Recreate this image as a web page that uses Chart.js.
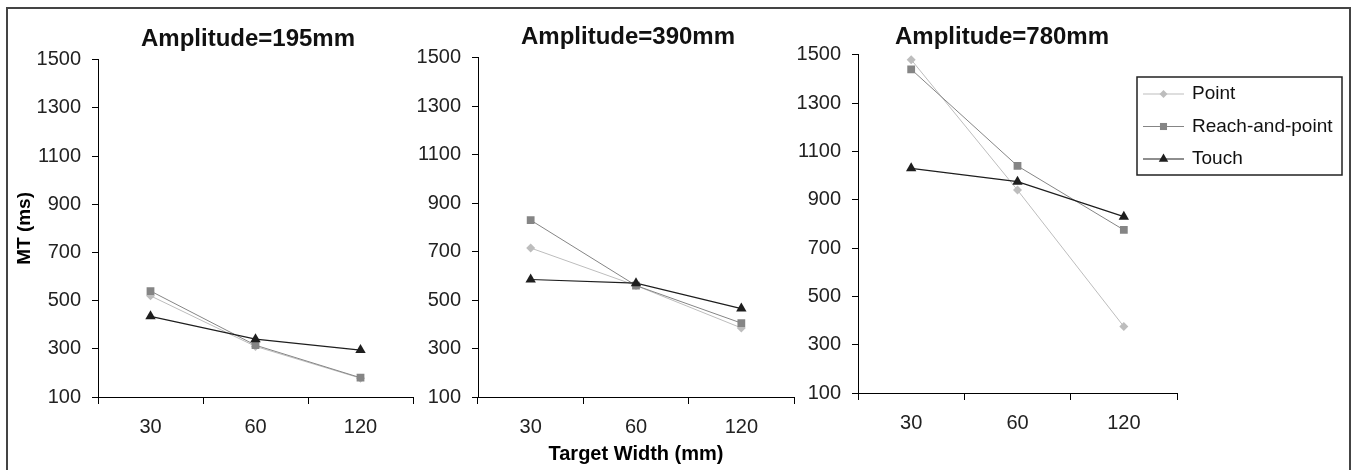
<!DOCTYPE html>
<html>
<head>
<meta charset="utf-8">
<title>MT por amplitud</title>
<script src="https://cdn.jsdelivr.net/npm/chart.js@4.4.0/dist/chart.umd.min.js"></script>
<style>
  body{margin:0;background:#fff;width:1353px;height:470px;overflow:hidden;}
  #marco{position:absolute;left:6px;top:7px;width:1341px;height:490px;border:2px solid #444;}
  canvas{position:absolute;top:10px;}
</style>
</head>
<body>
<div id="marco"></div>
<canvas id="Grafica1" width="480" height="460" style="left:8px"></canvas>
<canvas id="Grafica2" width="480" height="460" style="left:388px"></canvas>
<canvas id="Grafica3" width="686" height="460" style="left:659px"></canvas>
<script>
// datos
const anchos = ['30', '60', '120'];
const series = ['Point', 'Reach-and-point', 'Touch'];
const ticksY = [100, 300, 500, 700, 900, 1100, 1300, 1500];

// Amplitude=195mm
const point195 = [520, 310, 178];
const reach195 = [540, 315, 180];
const touch195 = [435, 340, 295];
// Amplitude=390mm
const point390 = [715, 560, 385];
const reach390 = [830, 560, 405];
const touch390 = [585, 570, 465];
// Amplitude=780mm
const point780 = [1480, 940, 375];
const reach780 = [1440, 1040, 775];
const touch780 = [1030, 975, 830];

Chart.defaults.font.family = "'Liberation Sans', Arial, sans-serif";
Chart.defaults.color = '#222';

// estilo de cada serie (gris claro, gris, negro)
const estilos = [
  {color: '#bdbdbd', forma: 'rectRot', radio: 4.5, orden: 3, ancho: 1},
  {color: '#858585', forma: 'rect', radio: 5.5, orden: 2, ancho: 1},
  {color: '#1e1e1e', forma: 'triangle', radio: 6, orden: 1, ancho: 1.2}
];

// leyenda con caja, linea y marcador como en la figura original
const leyendaCaja = {
  id: 'leyendaCaja',
  afterDraw(chart, args, opts) {
    const ctx = chart.ctx;
    ctx.save();
    ctx.strokeStyle = '#222';
    ctx.lineWidth = 1.5;
    ctx.strokeRect(opts.x, opts.y, opts.w, opts.h);
    ctx.font = "19px 'Liberation Sans', Arial, sans-serif";
    ctx.textBaseline = 'middle';
    ctx.textAlign = 'left';
    chart.data.datasets.forEach((ds, i) => {
      const y = opts.y + opts.primera + i * opts.paso;
      ctx.strokeStyle = ds.borderColor;
      ctx.lineWidth = ds.borderWidth;
      ctx.beginPath();
      ctx.moveTo(opts.x + 6, y);
      ctx.lineTo(opts.x + 47, y);
      ctx.stroke();
      ctx.fillStyle = ds.pointBackgroundColor;
      Chart.helpers.drawPoint(ctx, {pointStyle: ds.pointStyle, radius: ds.pointRadius - 0.5, borderWidth: 0, rotation: 0}, opts.x + 26.5, y);
      ctx.fillStyle = '#111';
      ctx.fillText(ds.label, opts.x + 55, y);
    });
    ctx.restore();
  }
};

const crearGrafica = (id, titulo, valores, conf) => {
  const datasets = valores.map((v, i) => ({
    label: series[i],
    data: v,
    borderColor: estilos[i].color,
    backgroundColor: estilos[i].color,
    pointBackgroundColor: estilos[i].color,
    pointBorderColor: estilos[i].color,
    pointBorderWidth: 0,
    pointStyle: estilos[i].forma,
    pointRadius: estilos[i].radio,
    borderWidth: estilos[i].ancho,
    tension: 0,
    order: estilos[i].orden
  }));

  return new Chart(document.getElementById(id), {
    type: 'line',
    data: {labels: anchos, datasets: datasets},
    plugins: conf.leyenda ? [leyendaCaja] : [],
    options: {
      responsive: false,
      animation: false,
      layout: {padding: {top: 0, left: 0, right: 0, bottom: conf.abajo}},
      plugins: {
        legend: {display: false},
        tooltip: {enabled: false},
        title: {
          display: true,
          text: titulo,
          color: '#111',
          font: {size: 24, weight: 'bold'},
          padding: {top: conf.tituloArriba, bottom: conf.tituloAbajo}
        },
        leyendaCaja: conf.leyenda || {}
      },
      scales: {
        x: {
          offset: true,
          grid: {offset: true, drawOnChartArea: false, drawTicks: true, tickLength: 7, tickColor: '#000'},
          border: {display: true, color: '#000', width: 1},
          ticks: {font: {size: 20}, color: '#222', padding: 11, maxRotation: 0},
          title: {display: conf.tituloX, text: 'Target Width (mm)', color: '#000', font: {size: 20, weight: 'bold'}, padding: {top: 0, bottom: 1}},
          afterFit: (escala) => { escala.height = 70; }
        },
        y: {
          min: ticksY[0],
          max: ticksY[ticksY.length - 1],
          afterBuildTicks: (escala) => { escala.ticks = ticksY.map(v => ({value: v})); },
          grid: {drawOnChartArea: false, drawTicks: true, tickLength: 6, tickColor: '#000'},
          border: {display: true, color: '#000', width: 1},
          ticks: {font: {size: 20}, color: '#222', padding: 11, callback: (v) => String(v)},
          title: {display: conf.tituloY, text: 'MT (ms)', color: '#000', font: {size: 19, weight: 'bold'}, padding: {top: 5, bottom: 0}},
          afterFit: (escala) => { escala.width = conf.anchoY; }
        },
        // eje vacio a la derecha: deja sitio para que el titulo quede centrado como en la figura
        derecha: {
          axis: 'y',
          position: 'right',
          grid: {display: false},
          border: {display: false},
          ticks: {display: false},
          afterFit: (escala) => { escala.width = conf.derecha; }
        }
      }
    }
  });
};

crearGrafica('Grafica1', 'Amplitude=195mm', [point195, reach195, touch195],
  {anchoY: 90, derecha: 75, abajo: 3, tituloArriba: 15, tituloAbajo: 6, tituloY: true, tituloX: false});
crearGrafica('Grafica2', 'Amplitude=390mm', [point390, reach390, touch390],
  {anchoY: 90, derecha: 74, abajo: 3, tituloArriba: 13, tituloAbajo: 6, tituloY: false, tituloX: true});
crearGrafica('Grafica3', 'Amplitude=780mm', [point780, reach780, touch780],
  {anchoY: 199, derecha: 168, abajo: 7, tituloArriba: 13, tituloAbajo: 3, tituloY: false, tituloX: false,
   leyenda: {x: 478, y: 67, w: 205, h: 98, primera: 17, paso: 32.5}});
</script>
</body>
</html>
